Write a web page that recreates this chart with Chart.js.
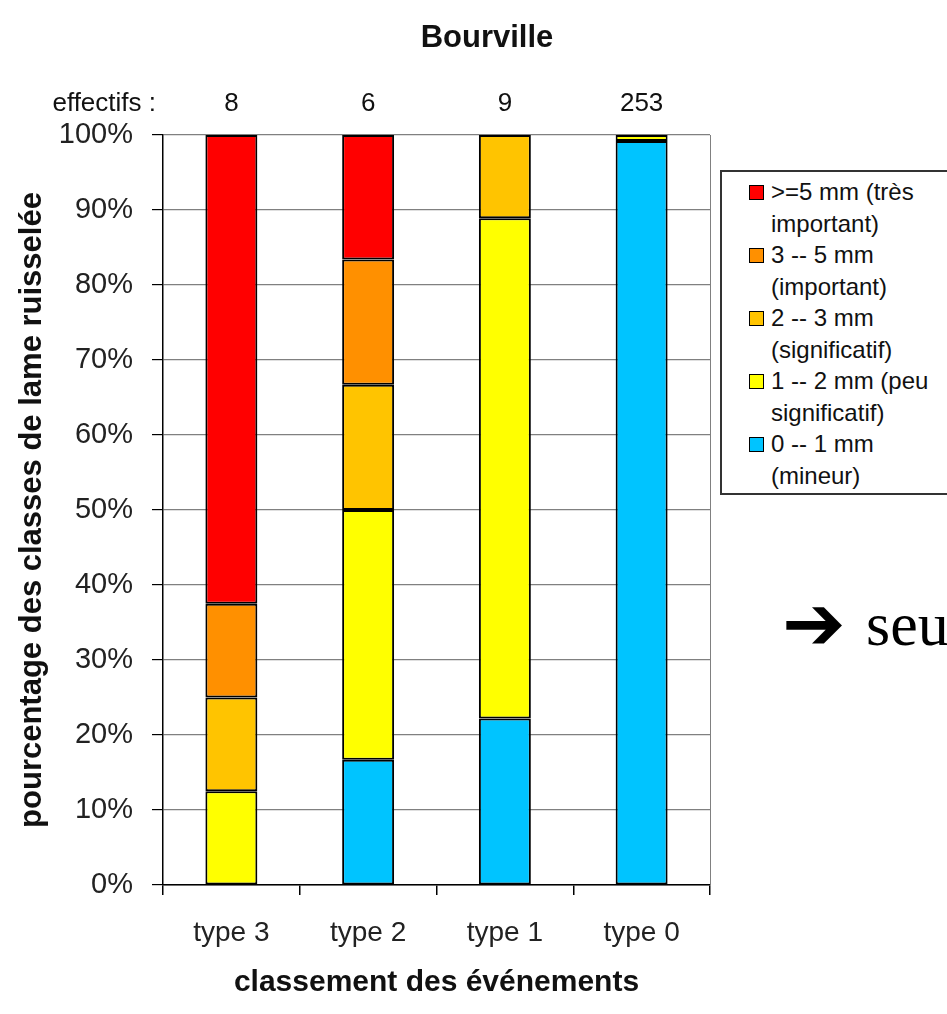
<!DOCTYPE html>
<html>
<head>
<meta charset="utf-8">
<script src="https://cdn.jsdelivr.net/npm/chart.js@4.4.0/dist/chart.umd.min.js"></script>
<style>
  body { margin: 0; background: #fff; font-family: "Liberation Sans", Arial, sans-serif; overflow: hidden; }
  #wrap { position: relative; width: 947px; height: 1014px; }
  #legend {
    position: absolute; left: 720px; top: 170px; width: 260px; height: 325px;
    border: 2px solid #333; background: #fff; box-sizing: border-box;
    padding: 4px 0 0 27px; font-size: 24px; line-height: 31.5px; color: #111;
  }
  #legend .item { position: relative; padding-left: 22px; }
  #legend .sw { position: absolute; left: 0; top: 9px; width: 13px; height: 13px; border: 1px solid #000; }
  #arrow { position: absolute; left: 782px; top: 578px; font-family: "DejaVu Sans", sans-serif; font-size: 76px; line-height: 90px; color: #000; }
  #seu { position: absolute; left: 866px; top: 588px; font-family: "Liberation Serif", serif; font-size: 62px; line-height: 72px; color: #000; white-space: nowrap; }
</style>
</head>
<body>
<div id="wrap">
  <canvas id="chart"></canvas>
  <div id="legend"></div>
  <div id="arrow">➔</div>
  <div id="seu">seu</div>
</div>
<script>
// categories and counts (effectifs)
var categories = ['type 3', 'type 2', 'type 1', 'type 0'];
var effectifs = [8, 6, 9, 253];

// percentage of each class per category
var mineur = [0, 16.7, 22.2, 99.2];          // 0 -- 1 mm
var peuSignificatif = [12.5, 33.3, 66.7, 0.8]; // 1 -- 2 mm
var significatif = [12.5, 16.7, 11.1, 0];    // 2 -- 3 mm
var important = [12.5, 16.7, 0, 0];          // 3 -- 5 mm
var tresImportant = [62.5, 16.6, 0, 0];      // >=5 mm

var yTicks = [0, 10, 20, 30, 40, 50, 60, 70, 80, 90, 100];

var classes = [
  { label: '0 -- 1 mm (mineur)', lines: ['0 -- 1 mm', '(mineur)'], data: mineur, color: '#00c4ff' },
  { label: '1 -- 2 mm (peu significatif)', lines: ['1 -- 2 mm (peu', 'significatif)'], data: peuSignificatif, color: '#ffff00' },
  { label: '2 -- 3 mm (significatif)', lines: ['2 -- 3 mm', '(significatif)'], data: significatif, color: '#ffc400' },
  { label: '3 -- 5 mm (important)', lines: ['3 -- 5 mm', '(important)'], data: important, color: '#ff9000' },
  { label: '>=5 mm (très important)', lines: ['>=5 mm (très', 'important)'], data: tresImportant, color: '#ff0000' }
];

var datasets = classes.map(function(c) {
  return {
    label: c.label,
    data: c.data,
    backgroundColor: c.color,
    borderColor: '#000',
    borderWidth: 2,
    borderSkipped: false,
    categoryPercentage: 1,
    barPercentage: 0.38
  };
});

// legend, top item first like the original
var legendHtml = '';
for (var i = classes.length - 1; i >= 0; i--) {
  legendHtml += '<div class="item"><span class="sw" style="background:' + classes[i].color + '"></span>' +
    classes[i].lines.join('<br>') + '</div>';
}
document.getElementById('legend').innerHTML = legendHtml;

var extras = {
  id: 'extras',
  afterDraw: function(chart) {
    var ctx = chart.ctx, area = chart.chartArea, x = chart.scales.x;
    ctx.save();
    // plot frame (right side)
    ctx.strokeStyle = '#808080';
    ctx.lineWidth = 1;
    ctx.beginPath();
    ctx.moveTo(area.right + 0.5, area.top);
    ctx.lineTo(area.right + 0.5, area.bottom);
    ctx.stroke();

    ctx.fillStyle = '#111';
    ctx.textBaseline = 'middle';
    ctx.textAlign = 'center';
    ctx.font = 'bold 31px "Liberation Sans", Arial, sans-serif';
    ctx.fillText('Bourville', 487, 38);

    ctx.font = '26px "Liberation Sans", Arial, sans-serif';
    ctx.textAlign = 'right';
    ctx.fillText('effectifs :', 156, 104);
    ctx.textAlign = 'center';
    effectifs.forEach(function(n, i) {
      ctx.fillText(String(n), x.getPixelForValue(i), 104);
    });
    ctx.restore();
  }
};

new Chart(document.getElementById('chart'), {
  type: 'bar',
  data: { labels: categories, datasets: datasets },
  plugins: [extras],
  options: {
    responsive: true,
    maintainAspectRatio: false,
    animation: false,
    layout: { padding: { top: 135, right: 237, bottom: 0, left: 0 } },
    plugins: {
      legend: { display: false },
      tooltip: { enabled: false }
    },
    scales: {
      x: {
        stacked: true,
        grid: { offset: true, drawOnChartArea: false, color: '#000', tickLength: 10, lineWidth: 1.5 },
        border: { color: '#000', width: 1.5 },
        ticks: { color: '#222', padding: 21, font: { size: 28, family: '"Liberation Sans", Arial, sans-serif' } },
        title: {
          display: true,
          text: 'classement des événements',
          color: '#111',
          padding: { top: 0, bottom: 13 },
          font: { size: 30, weight: 'bold', family: '"Liberation Sans", Arial, sans-serif' }
        },
        afterFit: function(scale) { scale.height = 129; }
      },
      y: {
        stacked: true,
        min: 0,
        max: 100,
        afterBuildTicks: function(scale) {
          scale.ticks = yTicks.map(function(v) { return { value: v }; });
        },
        grid: { color: '#808080', tickColor: '#000', tickLength: 11, lineWidth: 1.2 },
        border: { color: '#000', width: 1.5 },
        ticks: {
          color: '#222',
          padding: 19,
          font: { size: 29, family: '"Liberation Sans", Arial, sans-serif' },
          callback: function(v) { return v + '%'; }
        },
        title: {
          display: true,
          text: 'pourcentage des classes de lame ruisselée',
          color: '#111',
          padding: { top: 14, bottom: 0 },
          font: { size: 31, weight: 'bold', family: '"Liberation Sans", Arial, sans-serif' }
        },
        afterFit: function(scale) { scale.width = 163; }
      }
    }
  }
});
</script>
</body>
</html>
